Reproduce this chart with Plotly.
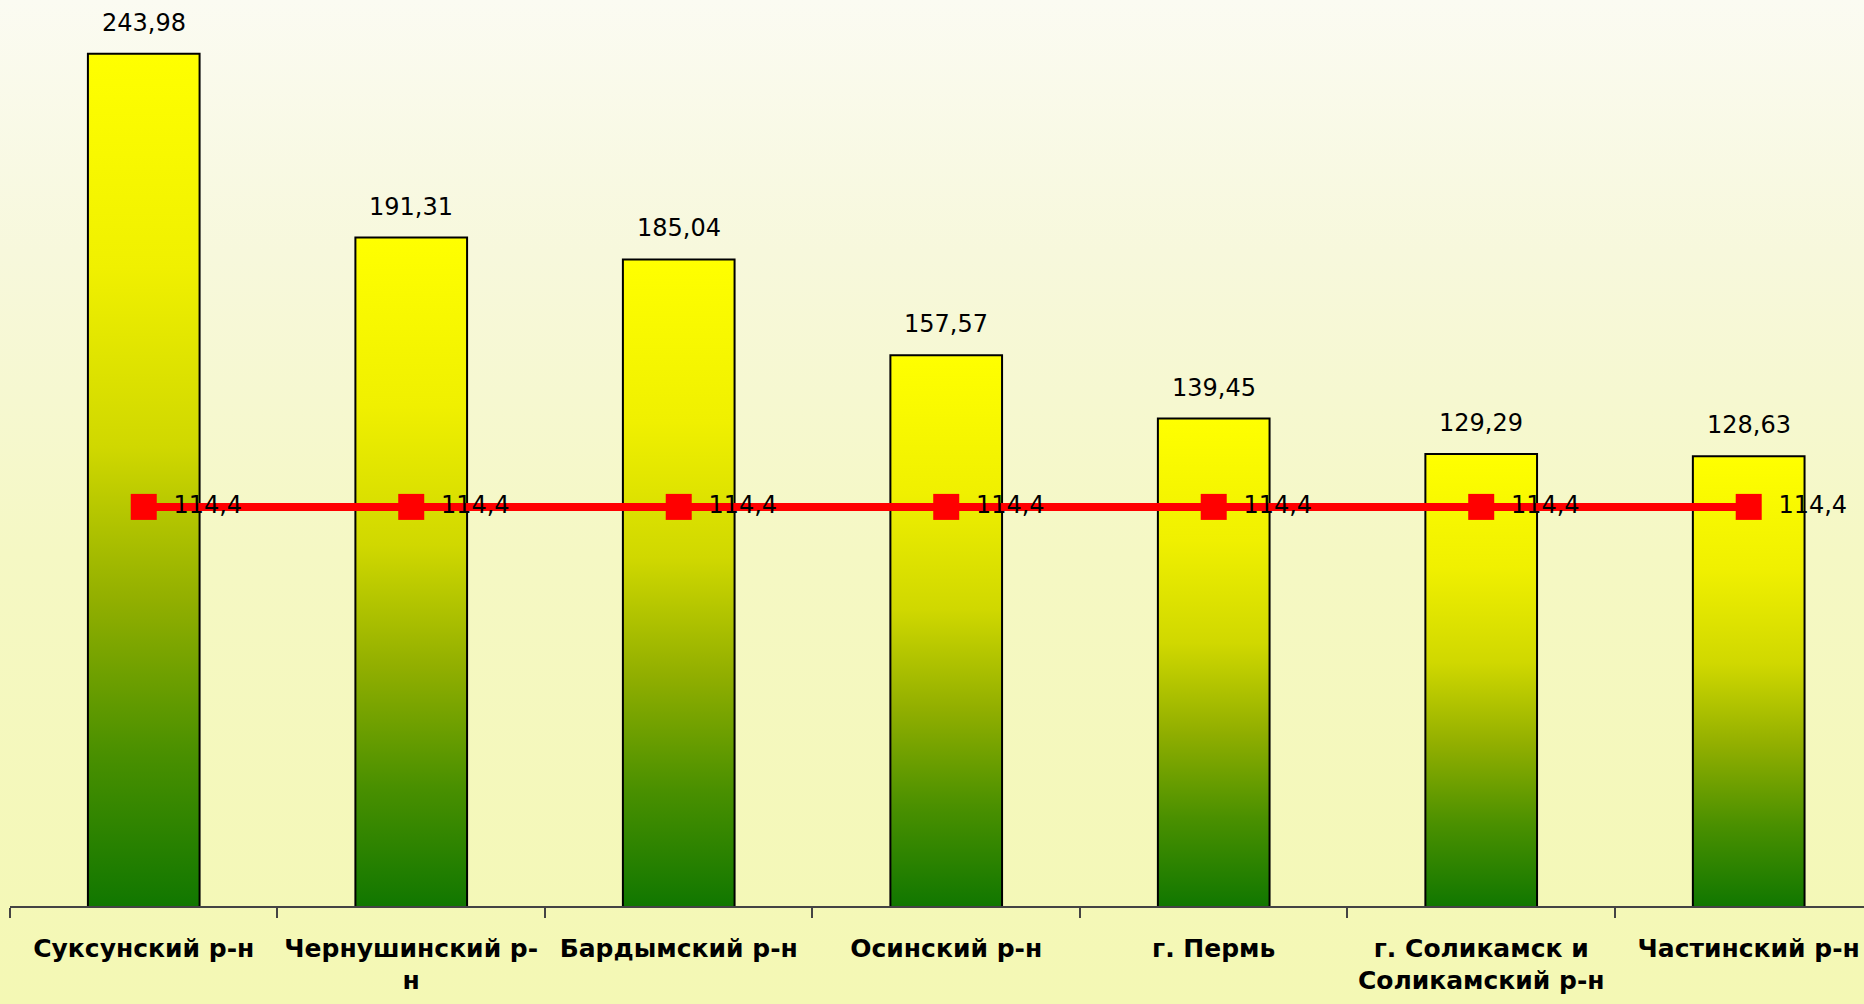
import plotly.graph_objects as go

categories = ["Суксунский р-н", "Чернушинский р-<br>н", "Бардымский р-н", "Осинский р-н",
              "г. Пермь", "г. Соликамск и<br>Соликамский р-н", "Частинский р-н"]
values = [243.98, 191.31, 185.04, 157.57, 139.45, 129.29, 128.63]
average = [114.4, 114.4, 114.4, 114.4, 114.4, 114.4, 114.4]


def fmt(v):
    s = f"{v:.2f}".rstrip("0").rstrip(".")
    return s.replace(".", ",")


W = 1864
H = 1004
BAR_W = 0.41
pos = list(range(len(categories)))

bar_scale = [[0.0, "#117700"], [0.18, "#4a9000"], [0.36, "#92af00"],
             [0.54, "#d0d800"], [0.75, "#f0f000"], [1.0, "#ffff00"]]
bg_scale = [[0.0, "#f4f8b4"], [0.45, "#f5f8c4"], [0.75, "#f7f8dc"], [1.0, "#fbfbf2"]]

fig = go.Figure()

# background gradient on full-paper helper axes
fig.add_trace(go.Scatter(
    x=[0, 1, 1, 0, 0], y=[0, 0, 1, 1, 0], mode="lines", fill="toself",
    line=dict(width=0), hoverinfo="skip", showlegend=False,
    fillgradient=dict(type="vertical", colorscale=bg_scale, start=0, stop=1),
    xaxis="x", yaxis="y"))

# gradient fill for each bar
for p, v in zip(pos, values):
    fig.add_trace(go.Scatter(
        x=[p - BAR_W / 2, p + BAR_W / 2, p + BAR_W / 2, p - BAR_W / 2, p - BAR_W / 2],
        y=[0, 0, v, v, 0], mode="lines", fill="toself", line=dict(width=0),
        fillgradient=dict(type="vertical", colorscale=bar_scale, start=0, stop=v),
        hoverinfo="skip", showlegend=False, xaxis="x2", yaxis="y2"))

# bar outlines
fig.add_trace(go.Bar(
    x=pos, y=values, width=BAR_W,
    marker=dict(color="rgba(0,0,0,0)", line=dict(color="#000000", width=4)),
    showlegend=False, xaxis="x2", yaxis="y2"))

# average line
fig.add_trace(go.Scatter(
    x=pos, y=average, mode="lines+markers+text",
    line=dict(color="#ff0000", width=8),
    marker=dict(symbol="square", size=26, color="#ff0000"),
    text=["\u2009\u00a0" + fmt(a) for a in average], textposition="middle right",
    textfont=dict(family="DejaVu Sans", size=24, color="#000000"),
    showlegend=False, cliponaxis=False, xaxis="x2", yaxis="y2"))

annotations = [dict(x=p, y=v, xref="x2", yref="y2", text=fmt(v), showarrow=False,
                    yshift=32, yanchor="middle",
                    font=dict(family="DejaVu Sans", size=24, color="#000000"))
               for p, v in zip(pos, values)]

fig.update_layout(
    width=W, height=H,
    margin=dict(l=0, r=0, t=0, b=0),
    paper_bgcolor="#f6f8c8",
    plot_bgcolor="rgba(0,0,0,0)",
    showlegend=False,
    annotations=annotations,
    xaxis=dict(domain=[0, 1], range=[0, 1], visible=False, fixedrange=True),
    yaxis=dict(domain=[0, 1], range=[0, 1], visible=False, fixedrange=True),
    xaxis2=dict(domain=[10 / W, 1], range=[-0.5, 6.431], anchor="y2",
                tickmode="array", tickvals=pos, ticktext=categories, ticks="",
                tickfont=dict(family="DejaVu Sans", size=25, color="#000000", weight="bold"),
                ticklabelstandoff=19,
                showline=True, linecolor="#444444", linewidth=1.5,
                showgrid=False, zeroline=False,
                minor=dict(tickmode="array", tickvals=[p - 0.5 for p in pos] + [pos[-1] + 0.5],
                           ticks="outside", ticklen=10, tickcolor="#444444", tickwidth=1.5,
                           showgrid=False)),
    yaxis2=dict(domain=[98 / H, 1], range=[0, 259.7], anchor="x2", visible=False,
                showgrid=False, zeroline=False),
)

fig.write_html("out.html", config={"displayModeBar": False},
               post_script="document.body.style.margin='0';document.body.style.overflow='hidden';")
